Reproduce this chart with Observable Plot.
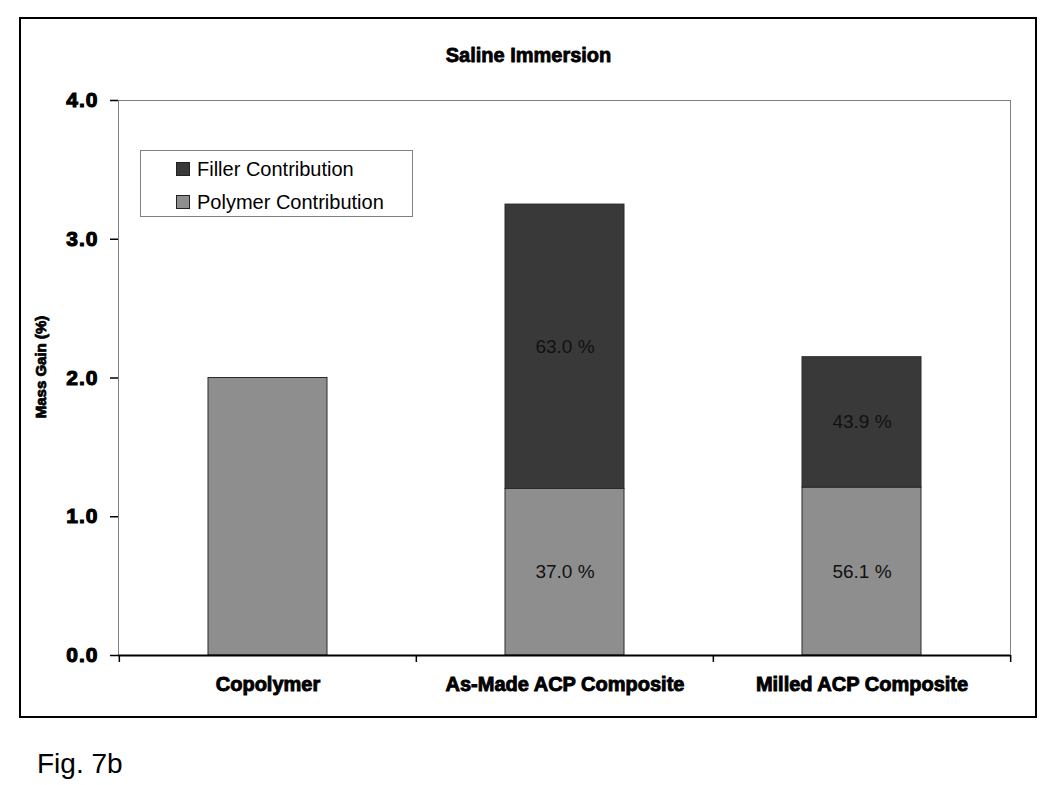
<!DOCTYPE html>
<html><head><meta charset="utf-8">
<script src="https://cdn.jsdelivr.net/npm/d3@7"></script>
<script src="https://cdn.jsdelivr.net/npm/@observablehq/plot@0.6"></script>
<style>
body{margin:0;background:#fff;font-family:"Liberation Sans",Arial,sans-serif;}
#wrap{position:relative;width:1050px;height:785px;background:#fff;}
#border{position:absolute;left:19px;top:17px;width:1018px;height:701px;border:2px solid #000;box-sizing:border-box;pointer-events:none;}
#chart{position:absolute;left:0;top:0;}
#chart svg{background:transparent;}
g[aria-label="x-axis tick label"] text{font-weight:bold;stroke:#000;stroke-width:0.9px;paint-order:stroke;}
g[aria-label="y-axis tick label"] text{font-weight:bold;stroke:#000;stroke-width:1.1px;paint-order:stroke;letter-spacing:1px;}
#legend{position:absolute;left:140px;top:150px;width:273px;height:67px;border:1px solid #808080;background:#fff;box-sizing:border-box;}
.item{position:absolute;left:35px;height:20px;display:flex;align-items:center;font-size:20px;color:#000;white-space:nowrap;}
.sw{width:12px;height:12px;border:1px solid #222;margin-right:7px;}
#fig{position:absolute;left:37px;top:750px;font-size:28px;line-height:1;color:#000;}
</style></head>
<body>
<div id="wrap">
  <div id="chart"></div>
  <div id="border"></div>
  <div id="legend"></div>
  <div id="fig"></div>
</div>
<script>
const categories = ["Copolymer", "As-Made ACP Composite", "Milled ACP Composite"];
const polymerGain = [2.00, 1.20, 1.21];
const fillerGain = [0, 2.05, 0.94];
const polymerLabels = ["", "37.0 %", "56.1 %"];
const fillerLabels = ["", "63.0 %", "43.9 %"];
const seriesNames = ["Filler Contribution", "Polymer Contribution"];
const seriesColors = ["#393939", "#8e8e8e"];
const yTicks = [0, 1, 2, 3, 4];
const titleText = "Saline Immersion";
const yLabel = "Mass Gain (%)";
const figLabel = "Fig. 7b";

const rows = [];
categories.forEach((c, i) => {
  rows.push({category: c, series: seriesNames[1], value: polymerGain[i], label: polymerLabels[i]});
  rows.push({category: c, series: seriesNames[0], value: fillerGain[i], label: fillerLabels[i]});
});
const bars = rows.filter(d => d.value > 0);
const order = [seriesNames[1], seriesNames[0]];

const W = 1050, H = 730, mL = 118, mR = 40, mT = 100, mB = 75;
const xOpts = {type: "band", domain: categories, range: [mL, W - mR], paddingInner: 0.6, paddingOuter: 0.3};
const xs = Plot.scale({x: xOpts});
const step = xs.step ?? xs.bandwidth / (1 - 0.6);
const half = step / 2;

const plot = Plot.plot({
  width: W, height: H,
  marginLeft: mL, marginRight: mR, marginTop: mT, marginBottom: mB,
  style: {fontFamily: "'Liberation Sans', Arial, sans-serif", background: "transparent", color: "#000"},
  x: {type: "band", domain: categories, paddingInner: 0.6, paddingOuter: 0.3},
  y: {domain: [0, 4]},
  color: {domain: seriesNames, range: seriesColors},
  marks: [
    Plot.frame({stroke: "#808080"}),
    Plot.barY(bars, Plot.stackY({x: "category", y: "value", fill: "series", order, stroke: "#2a2a2a", strokeWidth: 1})),
    Plot.text(bars.filter(d => d.label), Plot.stackY({x: "category", y: "value", z: "series", text: "label", order, fontSize: 19, fill: "#111"})),
    Plot.ruleY([0], {stroke: "#000", strokeWidth: 2}),
    Plot.ruleX(categories, {x: d => d, y1: 0, y2: 0, insetBottom: -7, dx: -half, stroke: "#000", strokeWidth: 1.5}),
    Plot.ruleX([categories[categories.length - 1]], {x: d => d, y1: 0, y2: 0, insetBottom: -7, dx: half, stroke: "#000", strokeWidth: 1.5}),
    Plot.axisY({ticks: yTicks, tickFormat: d3.format(".1f"), tickSize: 8, tickPadding: 12, fontSize: 21, label: null, strokeWidth: 1.5}),
    Plot.axisX({tickSize: 0, tickPadding: 21, fontSize: 20, label: null}),
    Plot.text([titleText], {frameAnchor: "top", dx: -36, dy: -45, lineAnchor: "middle", fontSize: 20, fontWeight: "bold", fill: "#000", stroke: "#000", strokeWidth: 0.8}),
    Plot.text([yLabel], {frameAnchor: "left", rotate: -90, dx: -77, dy: -11, textAnchor: "middle", fontSize: 15, fontWeight: "bold", fill: "#000", stroke: "#000", strokeWidth: 0.8})
  ]
});
document.getElementById("chart").appendChild(plot);

const legend = document.getElementById("legend");
seriesNames.forEach((name, i) => {
  const item = document.createElement("div");
  item.className = "item";
  item.style.top = (8 + i * 33) + "px";
  const sw = document.createElement("span");
  sw.className = "sw";
  sw.style.background = seriesColors[i];
  const t = document.createElement("span");
  t.textContent = name;
  item.appendChild(sw);
  item.appendChild(t);
  legend.appendChild(item);
});
document.getElementById("fig").textContent = figLabel;
</script>
</body></html>
